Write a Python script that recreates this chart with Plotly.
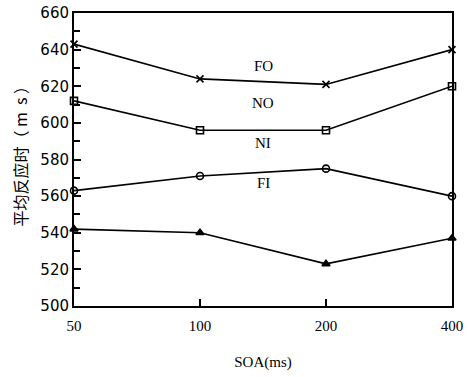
import plotly.graph_objects as go

soa = ["50", "100", "200", "400"]
fo = [643, 624, 621, 640]
no = [612, 596, 596, 620]
ni = [563, 571, 575, 560]
fi = [542, 540, 523, 537]
series_names = ["FO", "NO", "NI", "FI"]
label_y = [631, 611, 589, 567]
y_ticks = [500, 520, 540, 560, 580, 600, 620, 640, 660]

fig = go.Figure()
symbols = ["x-thin-open", "square-open", "circle-open", "triangle-up"]
for vals, sym in zip([fo, no, ni, fi], symbols):
    fig.add_trace(go.Scatter(
        x=list(range(len(soa))), y=vals, mode="lines+markers",
        line=dict(color="black", width=1.6),
        marker=dict(symbol=sym, size=7, color="black",
                    line=dict(color="black", width=1.6)),
        showlegend=False, cliponaxis=False))

for name, ly in zip(series_names, label_y):
    fig.add_annotation(x=1.5, y=ly, text=name, showarrow=False,
                       font=dict(family="Liberation Serif", size=15, color="black"))

fig.add_annotation(xref="paper", yref="paper", x=-0.143, y=0.527,
                   xanchor="center", yanchor="middle",
                   text="平均反应时（ m  s ）", textangle=-90, showarrow=False,
                   font=dict(family="Noto Sans CJK SC", size=16, color="black"))

fig.update_xaxes(
    range=[0, 3], tickvals=list(range(len(soa))), ticktext=soa,
    ticks="inside", ticklen=7, tickwidth=1.5, tickcolor="black",
    showline=True, linecolor="black", linewidth=2, mirror=True,
    showgrid=False, zeroline=False, automargin=False, ticklabeloverflow="allow",
    ticklabelstandoff=5,
    tickfont=dict(family="Liberation Serif", size=15, color="black"),
    title=dict(text="SOA(ms)", font=dict(family="Liberation Serif", size=15, color="black"), standoff=23))
fig.update_yaxes(
    range=[500, 660], tickvals=y_ticks,
    ticks="inside", ticklen=7, tickwidth=1.5, tickcolor="black",
    minor=dict(dtick=10, ticks="inside", ticklen=6, tickwidth=1.5, tickcolor="black", showgrid=False),
    showline=True, linecolor="black", linewidth=2, mirror=True,
    showgrid=False, zeroline=False, automargin=False, ticklabeloverflow="allow",
    tickfont=dict(family="DejaVu Sans", size=15, color="black"))

fig.update_layout(width=468, height=377, plot_bgcolor="white", paper_bgcolor="white",
                  margin=dict(l=74, r=16, t=13, b=71))
fig.write_html("out.html", config={"displayModeBar": False},
               post_script="document.body.style.margin='0';")
